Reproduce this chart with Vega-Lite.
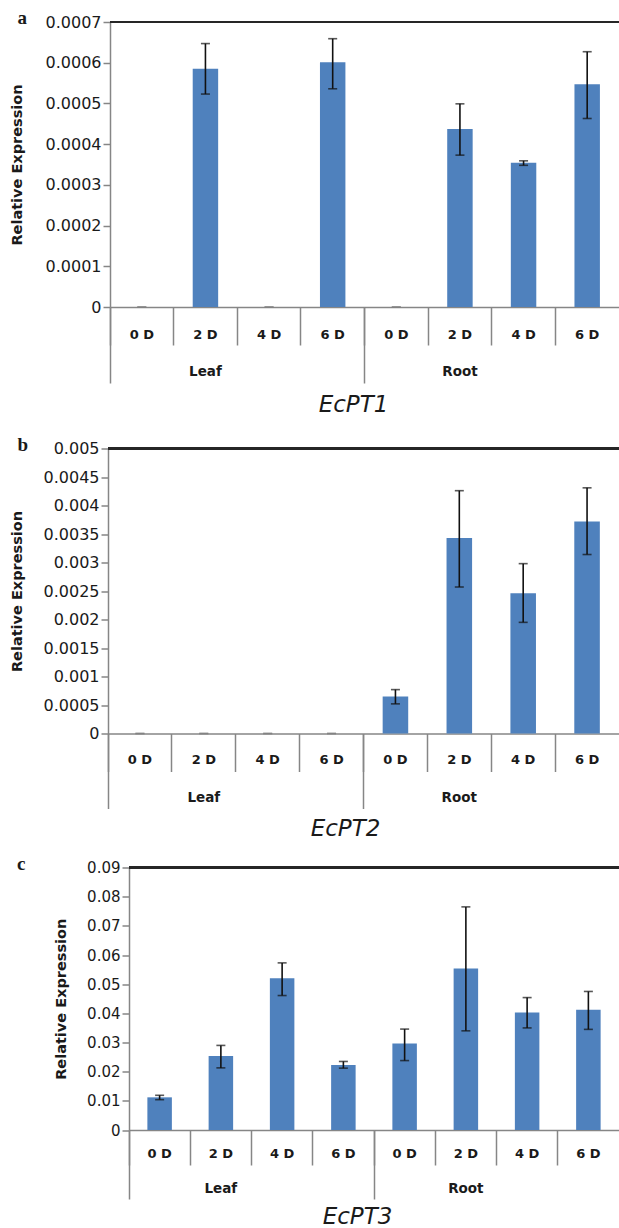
{
  "$schema": "https://vega.github.io/schema/vega-lite/v6.json",
  "padding": {"left": 8, "top": 9, "right": 0, "bottom": 0},
  "background": "white",
  "config": {"view": {"stroke": null}},
  "datasets": {
    "pt1": [
      {"key": "Leaf|0 D", "value": 0, "lo": 0, "hi": 0},
      {"key": "Leaf|2 D", "value": 0.000585, "lo": 0.000523, "hi": 0.000647},
      {"key": "Leaf|4 D", "value": 0, "lo": 0, "hi": 0},
      {"key": "Leaf|6 D", "value": 0.000601, "lo": 0.000536, "hi": 0.000659},
      {"key": "Root|0 D", "value": 0, "lo": 0, "hi": 0},
      {"key": "Root|2 D", "value": 0.000437, "lo": 0.000373, "hi": 0.000499},
      {"key": "Root|4 D", "value": 0.000354, "lo": 0.000348, "hi": 0.000359},
      {"key": "Root|6 D", "value": 0.000547, "lo": 0.000463, "hi": 0.000627}
    ],
    "pt2": [
      {"key": "Leaf|0 D", "value": 0, "lo": 0, "hi": 0},
      {"key": "Leaf|2 D", "value": 0, "lo": 0, "hi": 0},
      {"key": "Leaf|4 D", "value": 0, "lo": 0, "hi": 0},
      {"key": "Leaf|6 D", "value": 0, "lo": 0, "hi": 0},
      {"key": "Root|0 D", "value": 0.00065, "lo": 0.00052, "hi": 0.00077},
      {"key": "Root|2 D", "value": 0.00343, "lo": 0.00257, "hi": 0.00426},
      {"key": "Root|4 D", "value": 0.00246, "lo": 0.00195, "hi": 0.00298},
      {"key": "Root|6 D", "value": 0.00372, "lo": 0.00314, "hi": 0.00431}
    ],
    "pt3": [
      {"key": "Leaf|0 D", "value": 0.0112, "lo": 0.0104, "hi": 0.0119},
      {"key": "Leaf|2 D", "value": 0.0254, "lo": 0.0213, "hi": 0.029},
      {"key": "Leaf|4 D", "value": 0.052, "lo": 0.0461, "hi": 0.0573},
      {"key": "Leaf|6 D", "value": 0.0223, "lo": 0.0212, "hi": 0.0235},
      {"key": "Root|0 D", "value": 0.0297, "lo": 0.0238, "hi": 0.0346},
      {"key": "Root|2 D", "value": 0.0554, "lo": 0.034, "hi": 0.0765},
      {"key": "Root|4 D", "value": 0.0403, "lo": 0.035, "hi": 0.0454},
      {"key": "Root|6 D", "value": 0.0412, "lo": 0.0345, "hi": 0.0475}
    ]
  },
  "spacing": 13.5,
  "vconcat": [
    {
      "spacing": 18.5,
      "vconcat": [
        {
          "spacing": 0,
          "hconcat": [
            {"data": {"values": []}, "mark": "point", "width": 1, "height": 10},
            {
              "data": {"name": "pt1"},
              "width": 509,
              "height": 285,
              "title": {"text": "a", "anchor": "start", "frame": "group", "dx": -92.5, "offset": -14, "font": "Liberation Serif", "fontSize": 19, "fontWeight": "bold", "color": "#1a1a1a"},
              "resolve": {"axis": {"x": "independent", "y": "independent"}},
              "layer": [
                {
                  "mark": {"type": "bar", "color": "#4F81BD", "width": {"band": 0.4}},
                  "encoding": {
                    "x": {"field": "key", "type": "nominal", "sort": null, "scale": {"paddingInner": 0, "paddingOuter": 0},
                      "axis": {"orient": "bottom", "title": null, "ticks": false, "tickSize": 0, "labelPadding": 21, "labelExpr": "split(datum.value, '|')[1]", "labelAngle": 0, "labelFont": "DejaVu Sans", "labelFontSize": 13, "labelFontWeight": "bold", "labelColor": "#1a1a1a", "domainColor": "#868686", "domainWidth": 1.5, "labelOverlap": false}},
                    "y": {"field": "value", "type": "quantitative", "title": "Relative Expression", "scale": {"domain": [0, 0.0007], "nice": false, "zero": true},
                      "axis": {"orient": "left", "values": [0, 0.0001, 0.0002, 0.0003, 0.0004, 0.0005, 0.0006, 0.0007], "format": ".4~f", "grid": false, "domainColor": "#868686", "domainWidth": 1.5, "tickColor": "#868686", "tickWidth": 1.5, "tickSize": 7, "labelPadding": 2, "labelFont": "DejaVu Sans", "labelFontSize": 16, "labelColor": "#1a1a1a", "labelFlush": false, "labelOverlap": false, "titleFont": "DejaVu Sans", "titleFontSize": 14.5, "titleFontWeight": "bold", "titleColor": "#1a1a1a", "titlePadding": 20, "minExtent": 66, "maxExtent": 66}}
                  }
                },
                {
                  "mark": {"type": "rule", "color": "#111111", "strokeWidth": 1.6},
                  "encoding": {
                    "x": {"field": "key", "type": "nominal", "sort": null, "scale": {"paddingInner": 0, "paddingOuter": 0},
                      "axis": {"orient": "bottom", "title": null, "labels": false, "domain": false, "ticks": true, "tickSize": 38, "tickColor": "#868686", "tickWidth": 1.5, "bandPosition": 0}},
                    "y": {"field": "lo", "type": "quantitative", "axis": null},
                    "y2": {"field": "hi"}
                  }
                },
                {
                  "mark": {"type": "tick", "thickness": 1.6, "size": 9},
                  "encoding": {
                    "x": {"field": "key", "type": "nominal", "sort": null, "scale": {"paddingInner": 0, "paddingOuter": 0},
                      "axis": {"orient": "bottom", "title": "EcPT1", "labels": false, "domain": false, "ticks": true, "tickSize": 76, "tickColor": "#868686", "tickWidth": 1.5, "bandPosition": 0, "values": ["Leaf|0 D", "Root|0 D"], "titleFont": "DejaVu Sans", "titleFontSize": 23, "titleFontStyle": "italic", "titleFontWeight": "normal", "titleColor": "#1a1a1a", "titlePadding": 10, "titleX": 243}},
                    "y": {"field": "lo", "type": "quantitative", "axis": null},
                    "color": {"condition": {"test": "datum.hi == 0", "value": "#808080"}, "value": "#111111"}
                  }
                },
                {
                  "mark": {"type": "tick", "thickness": 1.6, "size": 9},
                  "encoding": {
                    "x": {"field": "key", "type": "nominal", "sort": null, "scale": {"paddingInner": 0, "paddingOuter": 0},
                      "axis": {"orient": "bottom", "title": null, "ticks": false, "tickSize": 0, "domain": false, "bandPosition": 1, "values": ["Leaf|2 D", "Root|2 D"], "labelExpr": "split(datum.value, '|')[0]", "labelPadding": 57, "labelAngle": 0, "labelFont": "DejaVu Sans", "labelFontSize": 13.5, "labelFontWeight": "bold", "labelColor": "#1a1a1a", "labelOverlap": false}},
                    "y": {"field": "hi", "type": "quantitative", "axis": null},
                    "color": {"condition": {"test": "datum.hi == 0", "value": "#808080"}, "value": "#111111"}
                  }
                },
                {
                  "mark": {"type": "rule", "color": "#262626", "strokeWidth": 2},
                  "encoding": {"y": {"datum": 0.0007, "type": "quantitative", "axis": null}}
                }
              ]
            }
          ]
        },
        {
          "spacing": 0,
          "hconcat": [
            {"data": {"values": []}, "mark": "point", "width": 1, "height": 10},
            {
              "data": {"name": "pt2"},
              "width": 511,
              "height": 285,
              "title": {"text": "b", "anchor": "start", "frame": "group", "dx": -90.5, "offset": -14, "font": "Liberation Serif", "fontSize": 19, "fontWeight": "bold", "color": "#1a1a1a"},
              "resolve": {"axis": {"x": "independent", "y": "independent"}},
              "layer": [
                {
                  "mark": {"type": "bar", "color": "#4F81BD", "width": {"band": 0.4}},
                  "encoding": {
                    "x": {"field": "key", "type": "nominal", "sort": null, "scale": {"paddingInner": 0, "paddingOuter": 0},
                      "axis": {"orient": "bottom", "title": null, "ticks": false, "tickSize": 0, "labelPadding": 20, "labelExpr": "split(datum.value, '|')[1]", "labelAngle": 0, "labelFont": "DejaVu Sans", "labelFontSize": 13, "labelFontWeight": "bold", "labelColor": "#1a1a1a", "domainColor": "#868686", "domainWidth": 1.5, "labelOverlap": false}},
                    "y": {"field": "value", "type": "quantitative", "title": "Relative Expression", "scale": {"domain": [0, 0.005], "nice": false, "zero": true},
                      "axis": {"orient": "left", "values": [0, 0.0005, 0.001, 0.0015, 0.002, 0.0025, 0.003, 0.0035, 0.004, 0.0045, 0.005], "format": ".4~f", "grid": false, "domainColor": "#868686", "domainWidth": 1.5, "tickColor": "#868686", "tickWidth": 1.5, "tickSize": 7, "labelPadding": 2, "labelFont": "DejaVu Sans", "labelFontSize": 16, "labelColor": "#1a1a1a", "labelFlush": false, "labelOverlap": false, "titleFont": "DejaVu Sans", "titleFontSize": 14.5, "titleFontWeight": "bold", "titleColor": "#1a1a1a", "titlePadding": 18, "minExtent": 66, "maxExtent": 66}}
                  }
                },
                {
                  "mark": {"type": "rule", "color": "#111111", "strokeWidth": 1.6},
                  "encoding": {
                    "x": {"field": "key", "type": "nominal", "sort": null, "scale": {"paddingInner": 0, "paddingOuter": 0},
                      "axis": {"orient": "bottom", "title": null, "labels": false, "domain": false, "ticks": true, "tickSize": 38, "tickColor": "#868686", "tickWidth": 1.5, "bandPosition": 0}},
                    "y": {"field": "lo", "type": "quantitative", "axis": null},
                    "y2": {"field": "hi"}
                  }
                },
                {
                  "mark": {"type": "tick", "thickness": 1.6, "size": 9},
                  "encoding": {
                    "x": {"field": "key", "type": "nominal", "sort": null, "scale": {"paddingInner": 0, "paddingOuter": 0},
                      "axis": {"orient": "bottom", "title": "EcPT2", "labels": false, "domain": false, "ticks": true, "tickSize": 75, "tickColor": "#868686", "tickWidth": 1.5, "bandPosition": 0, "values": ["Leaf|0 D", "Root|0 D"], "titleFont": "DejaVu Sans", "titleFontSize": 23, "titleFontStyle": "italic", "titleFontWeight": "normal", "titleColor": "#1a1a1a", "titlePadding": 8.5, "titleX": 237}},
                    "y": {"field": "lo", "type": "quantitative", "axis": null},
                    "color": {"condition": {"test": "datum.hi == 0", "value": "#808080"}, "value": "#111111"}
                  }
                },
                {
                  "mark": {"type": "tick", "thickness": 1.6, "size": 9},
                  "encoding": {
                    "x": {"field": "key", "type": "nominal", "sort": null, "scale": {"paddingInner": 0, "paddingOuter": 0},
                      "axis": {"orient": "bottom", "title": null, "ticks": false, "tickSize": 0, "domain": false, "bandPosition": 1, "values": ["Leaf|2 D", "Root|2 D"], "labelExpr": "split(datum.value, '|')[0]", "labelPadding": 56.5, "labelAngle": 0, "labelFont": "DejaVu Sans", "labelFontSize": 13.5, "labelFontWeight": "bold", "labelColor": "#1a1a1a", "labelOverlap": false}},
                    "y": {"field": "hi", "type": "quantitative", "axis": null},
                    "color": {"condition": {"test": "datum.hi == 0", "value": "#808080"}, "value": "#111111"}
                  }
                },
                {
                  "mark": {"type": "rule", "color": "#262626", "strokeWidth": 2},
                  "encoding": {"y": {"datum": 0.005, "type": "quantitative", "axis": null}}
                }
              ]
            }
          ]
        }
      ]
    },
    {
      "spacing": 0,
      "hconcat": [
        {"data": {"values": []}, "mark": "point", "width": 9, "height": 10},
        {
          "data": {"name": "pt3"},
          "width": 490,
          "height": 262.5,
          "title": {"text": "c", "anchor": "start", "frame": "group", "dx": -112, "offset": -13, "font": "Liberation Serif", "fontSize": 19, "fontWeight": "bold", "color": "#1a1a1a"},
          "resolve": {"axis": {"x": "independent", "y": "independent"}},
          "layer": [
            {
              "mark": {"type": "bar", "color": "#4F81BD", "width": {"band": 0.4}},
              "encoding": {
                "x": {"field": "key", "type": "nominal", "sort": null, "scale": {"paddingInner": 0, "paddingOuter": 0},
                  "axis": {"orient": "bottom", "title": null, "ticks": false, "tickSize": 0, "labelPadding": 17, "labelExpr": "split(datum.value, '|')[1]", "labelAngle": 0, "labelFont": "DejaVu Sans", "labelFontSize": 13, "labelFontWeight": "bold", "labelColor": "#1a1a1a", "domainColor": "#868686", "domainWidth": 1.5, "labelOverlap": false}},
                "y": {"field": "value", "type": "quantitative", "title": "Relative Expression", "scale": {"domain": [0, 0.09], "nice": false, "zero": true},
                  "axis": {"orient": "left", "values": [0, 0.01, 0.02, 0.03, 0.04, 0.05, 0.06, 0.07, 0.08, 0.09], "format": ".2~f", "grid": false, "domainColor": "#868686", "domainWidth": 1.5, "tickColor": "#868686", "tickWidth": 1.5, "tickSize": 7, "labelPadding": 2, "labelFont": "DejaVu Sans", "labelFontSize": 15, "labelColor": "#1a1a1a", "labelFlush": false, "labelOverlap": false, "titleFont": "DejaVu Sans", "titleFontSize": 14.5, "titleFontWeight": "bold", "titleColor": "#1a1a1a", "titlePadding": 17, "minExtent": 44, "maxExtent": 44}}
              }
            },
            {
              "mark": {"type": "rule", "color": "#111111", "strokeWidth": 1.6},
              "encoding": {
                "x": {"field": "key", "type": "nominal", "sort": null, "scale": {"paddingInner": 0, "paddingOuter": 0},
                  "axis": {"orient": "bottom", "title": null, "labels": false, "domain": false, "ticks": true, "tickSize": 35, "tickColor": "#868686", "tickWidth": 1.5, "bandPosition": 0}},
                "y": {"field": "lo", "type": "quantitative", "axis": null},
                "y2": {"field": "hi"}
              }
            },
            {
              "mark": {"type": "tick", "color": "#111111", "thickness": 1.6, "size": 9},
              "encoding": {
                "x": {"field": "key", "type": "nominal", "sort": null, "scale": {"paddingInner": 0, "paddingOuter": 0},
                  "axis": {"orient": "bottom", "title": "EcPT3", "labels": false, "domain": false, "ticks": true, "tickSize": 69, "tickColor": "#868686", "tickWidth": 1.5, "bandPosition": 0, "values": ["Leaf|0 D", "Root|0 D"], "titleFont": "DejaVu Sans", "titleFontSize": 23, "titleFontStyle": "italic", "titleFontWeight": "normal", "titleColor": "#1a1a1a", "titlePadding": 6, "titleX": 228}},
                "y": {"field": "lo", "type": "quantitative", "axis": null}
              }
            },
            {
              "mark": {"type": "tick", "color": "#111111", "thickness": 1.6, "size": 9},
              "encoding": {
                "x": {"field": "key", "type": "nominal", "sort": null, "scale": {"paddingInner": 0, "paddingOuter": 0},
                  "axis": {"orient": "bottom", "title": null, "ticks": false, "tickSize": 0, "domain": false, "bandPosition": 1, "values": ["Leaf|2 D", "Root|2 D"], "labelExpr": "split(datum.value, '|')[0]", "labelPadding": 51, "labelAngle": 0, "labelFont": "DejaVu Sans", "labelFontSize": 13.5, "labelFontWeight": "bold", "labelColor": "#1a1a1a", "labelOverlap": false}},
                "y": {"field": "hi", "type": "quantitative", "axis": null}
              }
            },
            {
              "mark": {"type": "rule", "color": "#262626", "strokeWidth": 2},
              "encoding": {"y": {"datum": 0.09, "type": "quantitative", "axis": null}}
            }
          ]
        }
      ]
    }
  ]
}
